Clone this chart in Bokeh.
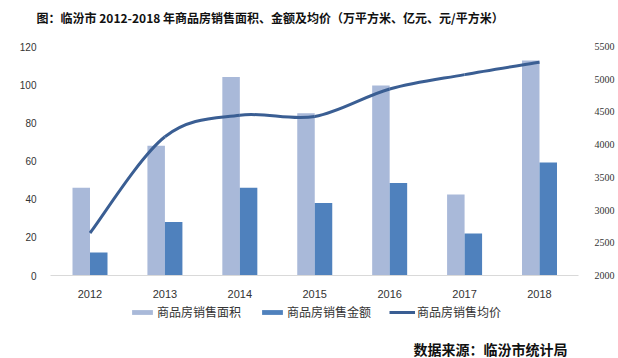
from bokeh.plotting import figure
from bokeh.models import (Range1d, LinearAxis, FixedTicker, Label, Legend, LegendItem, ColumnDataSource)
from bokeh.embed import file_html
from bokeh.resources import INLINE

years = [2012, 2013, 2014, 2015, 2016, 2017, 2018]
area = [46, 68, 104, 85, 99.5, 42.5, 112.7]        # 万平方米
amount = [12, 28, 46, 38, 48.5, 22, 59.2]          # 亿元
price = [2650, 4120, 4450, 4430, 4850, 5070, 5260] # 元/平方米
left_ticks = [0, 20, 40, 60, 80, 100, 120]
right_ticks = [2000, 2500, 3000, 3500, 4000, 4500, 5000, 5500]

title_text = "图：临汾市 2012-2018 年商品房销售面积、金额及均价（万平方米、亿元、元/平方米）"
source_text = "数据来源：临汾市统计局"
series_names = ["商品房销售面积", "商品房销售金额", "商品房销售均价"]

C_LIGHT = "#A9B9D9"
C_DARK = "#4F81BD"
C_LINE = "#3A5E93"
TICK_FONT = "Liberation Sans"
CJK = "Noto Sans CJK SC"

# layout (pixels on the 618x358 canvas)
W, H = 618, 358
TOP, BOTTOM_AXIS = 46, 275          # rows of 120 and 0 on the left scale
PLOT_L, PLOT_R = 50, 578            # plot-area columns
FIRST_C, LAST_C = 89.5, 539         # centres of the first / last category

px_y = (BOTTOM_AXIS - TOP) / 120.0
y_lo = -(H - BOTTOM_AXIS) / px_y
y_hi = 120.0 + TOP / px_y
ratio = (5500 - 2000) / 120.0

px_x = (LAST_C - FIRST_C) / (len(years) - 1)
def xdata(px):
    return years[0] + (px - FIRST_C) / px_x

p = figure(width=W, height=H, output_backend="svg", toolbar_location=None,
           x_range=Range1d(xdata(0), xdata(W)), y_range=Range1d(y_lo, y_hi),
           x_axis_location=None, y_axis_location=None,
           min_border_left=0, min_border_right=0, min_border_top=0, min_border_bottom=0)
p.outline_line_color = None
p.grid.grid_line_color = None
p.background_fill_color = "white"
p.border_fill_color = "white"

p.extra_y_ranges = {"price": Range1d(2000 + y_lo * ratio, 2000 + y_hi * ratio)}

bw = 17.5 / px_x
src = ColumnDataSource(dict(x=years, area=area, amount=amount, price=price,
                            xl=[y - bw / 2 for y in years], xr=[y + bw / 2 for y in years]))
r1 = p.vbar(x="xl", top="area", width=bw, source=src, color=C_LIGHT, line_color=None)
r2 = p.vbar(x="xr", top="amount", width=bw, source=src, color=C_DARK, line_color=None)

# smooth line (Catmull-Rom rendered as cubic Bezier segments through the data points)
n = len(years)
x0, y0, x1, y1, cx0, cy0, cx1, cy1 = [], [], [], [], [], [], [], []
for i in range(n - 1):
    pa = (years[max(i - 1, 0)], price[max(i - 1, 0)])
    pb = (years[i], price[i])
    pc = (years[i + 1], price[i + 1])
    pd = (years[min(i + 2, n - 1)], price[min(i + 2, n - 1)])
    x0.append(pb[0]); y0.append(pb[1]); x1.append(pc[0]); y1.append(pc[1])
    cx0.append(pb[0] + (pc[0] - pa[0]) / 6); cy0.append(pb[1] + (pc[1] - pa[1]) / 6)
    cx1.append(pc[0] - (pd[0] - pb[0]) / 6); cy1.append(pc[1] - (pd[1] - pb[1]) / 6)
p.bezier(x0=x0, y0=y0, x1=x1, y1=y1, cx0=cx0, cy0=cy0, cx1=cx1, cy1=cy1,
         line_color=C_LINE, line_width=3, y_range_name="price")

# x axis fixed at zero, limited to the plot area
xa = LinearAxis(fixed_location=0, ticker=FixedTicker(ticks=years),
                bounds=(xdata(PLOT_L), xdata(PLOT_R)))
xa.axis_line_color = "#D9D9D9"
xa.major_tick_line_color = None
xa.minor_tick_line_color = None
xa.major_label_text_font = TICK_FONT
xa.major_label_text_font_size = "11px"
xa.major_label_text_color = "#333333"
xa.major_label_standoff = 8
p.add_layout(xa, "below")

ya = LinearAxis(fixed_location=xdata(PLOT_L), ticker=FixedTicker(ticks=left_ticks))
ya.axis_line_color = None
ya.major_tick_line_color = None
ya.minor_tick_line_color = None
ya.major_label_text_font = TICK_FONT
ya.major_label_text_font_size = "10px"
ya.major_label_text_color = "#333333"
ya.major_label_standoff = 8
p.add_layout(ya, "left")

ra = LinearAxis(y_range_name="price", fixed_location=xdata(PLOT_R),
                ticker=FixedTicker(ticks=right_ticks))
ra.axis_line_color = None
ra.major_tick_line_color = None
ra.minor_tick_line_color = None
ra.major_label_text_font = "Liberation Serif"
ra.major_label_text_font_size = "10px"
ra.major_label_text_color = "#333333"
ra.major_label_standoff = 10
p.add_layout(ra, "right")

# legend (line swatch renderer kept out of view)
lr3 = p.line(x=[2012, 2012.1], y=[-1000, -1000], line_color=C_LINE, line_width=3)
legend = Legend(items=[LegendItem(label=series_names[0], renderers=[r1]),
                       LegendItem(label=series_names[1], renderers=[r2]),
                       LegendItem(label=series_names[2], renderers=[lr3])],
                orientation="horizontal", location=(129, 38),
                label_text_font=CJK, label_text_font_size="12px", label_text_color="#333333",
                glyph_width=26, glyph_height=6, label_standoff=2, spacing=18,
                border_line_color=None, background_fill_alpha=0, padding=0, margin=0)
p.add_layout(legend, "center")

title = Label(x=36, y=H - 17, x_units="screen", y_units="screen", text=title_text,
              text_font=CJK, text_font_style="bold", text_font_size="12px",
              text_color="#111111", text_baseline="middle")
p.add_layout(title)

src_lbl = Label(x=413, y=H - 348, x_units="screen", y_units="screen", text=source_text,
                text_font=CJK, text_font_style="bold", text_font_size="14px",
                text_color="#111111", text_baseline="middle")
p.add_layout(src_lbl)

open("out.html", "w").write(file_html(p, INLINE))
